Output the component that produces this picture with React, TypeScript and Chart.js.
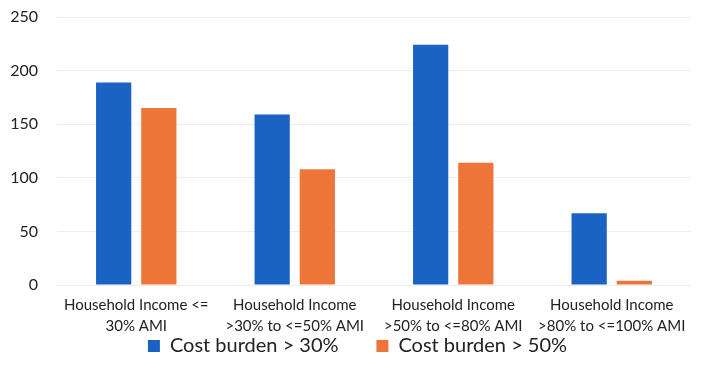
import React, { useEffect, useRef } from "react";
import { Chart, registerables } from "chart.js";

Chart.register(...registerables);

const categories: string[][] = [
  ["Household Income <=", "30% AMI"],
  ["Household Income", ">30% to <=50% AMI"],
  ["Household Income", ">50% to <=80% AMI"],
  ["Household Income", ">80% to <=100% AMI"],
];
const burden30: number[] = [189, 159, 224, 67];
const burden50: number[] = [165, 108, 114, 4];
const seriesNames: string[] = ["Cost burden > 30%", "Cost burden > 50%"];
const yTicks: number[] = [0, 50, 100, 150, 200, 250];

const FONT = "Lato, 'Open Sans', sans-serif";

export default function App() {
  const ref = useRef<HTMLCanvasElement | null>(null);
  useEffect(() => {
    document.body.style.margin = "0";
    const ctx = ref.current!;
    const chart = new Chart(ctx, {
      type: "bar",
      data: {
        labels: categories,
        datasets: [
          {
            label: seriesNames[0],
            data: burden30,
            backgroundColor: "#1a63c2",
            categoryPercentage: 0.57,
            barPercentage: 0.78,
          },
          {
            label: seriesNames[1],
            data: burden50,
            backgroundColor: "#ee7538",
            categoryPercentage: 0.57,
            barPercentage: 0.78,
          },
        ],
      },
      options: {
        responsive: false,
        animation: false,
        layout: { padding: { left: 24, right: 14, top: 0, bottom: 17 } },
        plugins: {
          legend: {
            position: "bottom",
            labels: {
              boxWidth: 12,
              boxHeight: 12,
              padding: 2,
              color: "#222",
              font: { family: FONT, size: 20 },
              generateLabels: (c: any) => {
                const items = Chart.defaults.plugins.legend.labels.generateLabels(c);
                items.forEach((it: any, i: number) => {
                  if (i < items.length - 1) it.text = it.text + "       ";
                });
                return items;
              },
            },
          },
          tooltip: { enabled: false },
        },
        scales: {
          x: {
            grid: { display: false, drawTicks: false },
            border: { display: false },
            afterFit: (scale: any) => {
              scale.height -= 13;
            },
            ticks: {
              color: "#222",
              padding: 10,
              font: { family: FONT, size: 15, lineHeight: 1.4 },
              maxRotation: 0,
              autoSkip: false,
            },
          },
          y: {
            min: 0,
            max: 250,
            afterBuildTicks: (axis: any) => {
              axis.ticks = yTicks.map((v) => ({ value: v }));
            },
            afterFit: (scale: any) => {
              scale.width = 33;
              scale.paddingTop = 17;
              scale.paddingBottom = 0;
              scale._computeLabelArea = () => undefined;
            },
            grid: { color: "#eeeeee", drawTicks: false },
            border: { display: false },
            ticks: {
              color: "#222",
              padding: 19,
              font: { family: FONT, size: 16 },
            },
          },
        },
      },
    });
    return () => chart.destroy();
  }, []);
  return (
    <div style={{ position: "absolute", left: 0, top: 0, width: 705, height: 383, background: "#fff" }}>
      <canvas ref={ref} width={705} height={383} />
    </div>
  );
}
